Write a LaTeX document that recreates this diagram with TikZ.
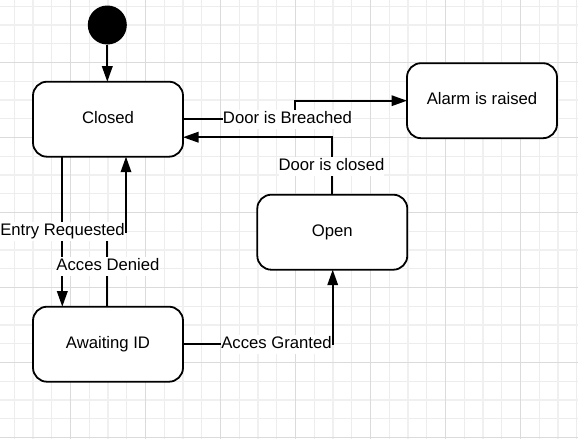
\documentclass[tikz,border=0pt]{standalone}
\usepackage{fontspec}
\setmainfont{Liberation Sans}
\usetikzlibrary{arrows.meta,calc}
\begin{document}
\begin{tikzpicture}[x=1pt,y=-1pt,
  gridminor/.style={draw=black!7, line width=1pt},
  gridthick/.style={draw=black!6, line width=2.5pt},
  griddark/.style={draw=black!14, line width=1pt},
  state/.style={draw=black, line width=1.8pt, fill=white, rounded corners=14pt,
    minimum width=150pt, minimum height=75pt, inner sep=0pt, outer sep=0pt,
    font=\fontsize{16.7}{20}\selectfont, text height=12pt, text depth=3.5pt},
  startnode/.style={circle, fill=black, minimum size=39pt, inner sep=0pt, outer sep=0pt},
  arr/.style={line width=1.8pt, -{Triangle[length=15.5pt,width=10.5pt]}},
  lbl/.style={fill=white, inner sep=0pt, text height=13.5pt, text depth=5.5pt,
    font=\fontsize{16.7}{20}\selectfont, anchor=base}
]
\useasboundingbox (0,0) rectangle (578,439);
\fill[white] (0,0) rectangle (578,439);
% grid
\foreach \k in {0,...,30} {
  \pgfmathsetmacro\xx{14.25+18.75*\k}
  \draw[gridminor] (\xx,0) -- (\xx,439);
}
\foreach \k in {0,...,23} {
  \pgfmathsetmacro\yy{6.25+18.75*\k}
  \draw[gridminor] (0,\yy) -- (578,\yy);
}
\foreach \xx in {33,108,...,558} { \draw[gridthick] (\xx,0) -- (\xx,439); }
\foreach \yy in {25,100,...,400} { \draw[gridthick] (0,\yy) -- (578,\yy); }
\foreach \xx in {70.5,145.5,...,520.5} { \draw[griddark] (\xx,0) -- (\xx,439); }
\foreach \yy in {62.5,137.5,...,437.5} { \draw[griddark] (0,\yy) -- (578,\yy); }

% nodes
\node[startnode] (start) at (107.3,25) {};
\node[state] (closed) at (108,119.2) {Closed};
\node[state] (awaiting) at (108,344.2) {Awaiting ID};
\node[state] (alarm) at (482,100.7) {Alarm is raised};
\node[state] (open) at (332.3,232.2) {Open};

% connectors
\draw[arr] (start.south) -- (start.south |- closed.north);
\draw[arr] (closed.east) -- ++(112,0) |- (alarm.west);
\draw[arr] (open.north) |- ($(closed.east)+(0,18)$);
\draw[arr] ($(closed.south)+(-45.7,0)$) -- ($(awaiting.north)+(-45.7,0)$);
\draw[arr] ($(awaiting.north)+(-0.7,0)$) -- ++(0,-75) -| ($(closed.south)+(18,0)$);
\draw[arr] (awaiting.east) -| ($(open.south)+(0.4,0)$);

% labels
\node[lbl] (lbreach) at (287.5,123.3) {Door is Breached};
\node[lbl] (lclosed) at (331.5,170) {Door is closed};
\node[lbl] (lentry) at (62.5,235) {Entry Requested};
\node[lbl] (ldenied) at (108,270) {Acces Denied};
\node[lbl] (lgranted) at (276.5,348.3) {Acces Granted};
\end{tikzpicture}
\end{document}
